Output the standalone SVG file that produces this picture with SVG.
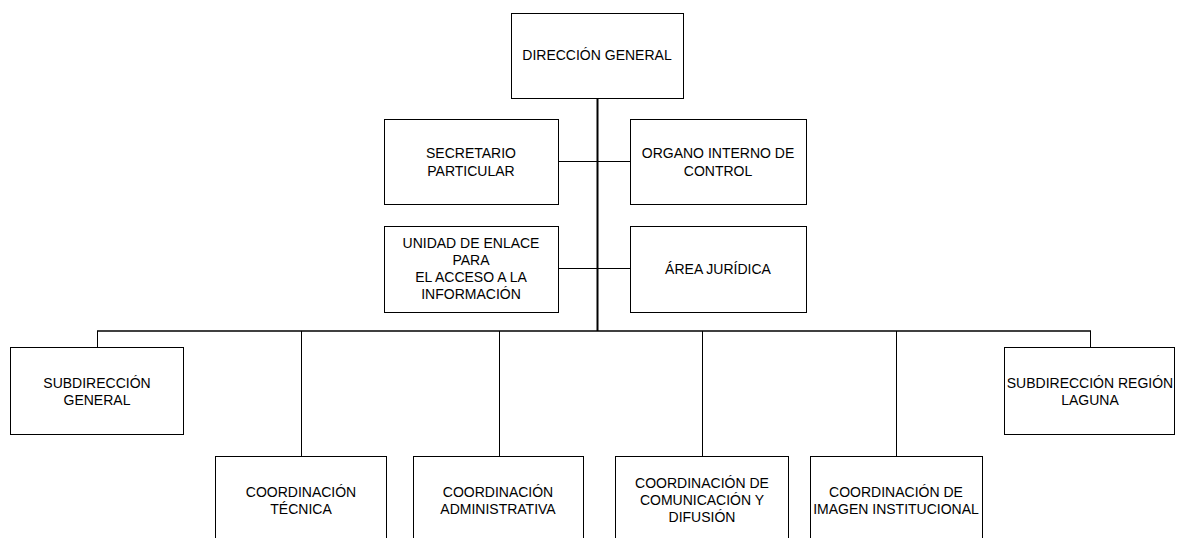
<svg xmlns="http://www.w3.org/2000/svg" width="1177" height="538" viewBox="0 0 1177 538">
<style>
.box{fill:#fff;stroke:#000;stroke-width:1}
.t{font-family:"Liberation Sans",Arial,sans-serif;font-size:14px;fill:#000;text-anchor:middle}
.c{stroke:#000;stroke-width:1;fill:none}
.m{stroke:#000;stroke-width:2;fill:none}
</style>
<rect width="1177" height="538" fill="#fff"/>
<g id="connectors">
<line class="m" x1="597.5" y1="98" x2="597.5" y2="331"/>
<line class="c" x1="558" y1="161.5" x2="630" y2="161.5"/>
<line class="c" x1="558" y1="268.5" x2="630" y2="268.5"/>
<line class="m" x1="97" y1="331" x2="1091" y2="331" style="stroke-width:1.5"/>
<polyline class="c" points="97.5,331 97.5,347"/>
<polyline class="c" points="1090.5,331 1090.5,347"/>
<line class="c" x1="301.5" y1="331" x2="301.5" y2="456"/>
<line class="c" x1="499.5" y1="331" x2="499.5" y2="456"/>
<line class="c" x1="702.5" y1="331" x2="702.5" y2="456"/>
<line class="c" x1="896.5" y1="331" x2="896.5" y2="456"/>
</g>
<g id="direccion">
<rect class="box" x="511.5" y="13.5" width="172" height="85"/>
<text class="t" x="597" y="60">DIRECCIÓN GENERAL</text>
</g>
<g id="secretario">
<rect class="box" x="384.5" y="119.5" width="174" height="85"/>
<text class="t" x="471" y="158">SECRETARIO</text>
<text class="t" x="471" y="176">PARTICULAR</text>
</g>
<g id="organo">
<rect class="box" x="630.5" y="119.5" width="176" height="85"/>
<text class="t" x="718" y="158">ORGANO INTERNO DE</text>
<text class="t" x="718" y="176">CONTROL</text>
</g>
<g id="unidad">
<rect class="box" x="384.5" y="226.5" width="174" height="86"/>
<text class="t" x="471" y="248">UNIDAD DE ENLACE</text>
<text class="t" x="471" y="265">PARA</text>
<text class="t" x="471" y="282">EL ACCESO A LA</text>
<text class="t" x="471" y="299">INFORMACIÓN</text>
</g>
<g id="juridica">
<rect class="box" x="630.5" y="226.5" width="176" height="86"/>
<text class="t" x="718" y="274">ÁREA JURÍDICA</text>
</g>
<g id="subgeneral">
<rect class="box" x="10.5" y="347.5" width="173" height="87"/>
<text class="t" x="97" y="388">SUBDIRECCIÓN</text>
<text class="t" x="97" y="405">GENERAL</text>
</g>
<g id="sublaguna">
<rect class="box" x="1004.5" y="347.5" width="170" height="87"/>
<text class="t" x="1090" y="388">SUBDIRECCIÓN REGIÓN</text>
<text class="t" x="1090" y="405">LAGUNA</text>
</g>
<g id="tecnica">
<rect class="box" x="215.5" y="456.5" width="171" height="90"/>
<text class="t" x="301" y="497">COORDINACIÓN</text>
<text class="t" x="301" y="514">TÉCNICA</text>
</g>
<g id="administrativa">
<rect class="box" x="413.5" y="456.5" width="170" height="90"/>
<text class="t" x="498" y="497">COORDINACIÓN</text>
<text class="t" x="498" y="514">ADMINISTRATIVA</text>
</g>
<g id="comunicacion">
<rect class="box" x="615.5" y="456.5" width="173" height="90"/>
<text class="t" x="702" y="488">COORDINACIÓN DE</text>
<text class="t" x="702" y="505">COMUNICACIÓN Y</text>
<text class="t" x="702" y="522">DIFUSIÓN</text>
</g>
<g id="imagen">
<rect class="box" x="810.5" y="456.5" width="172" height="90"/>
<text class="t" x="896" y="497">COORDINACIÓN DE</text>
<text class="t" x="896" y="514">IMAGEN INSTITUCIONAL</text>
</g>
</svg>
